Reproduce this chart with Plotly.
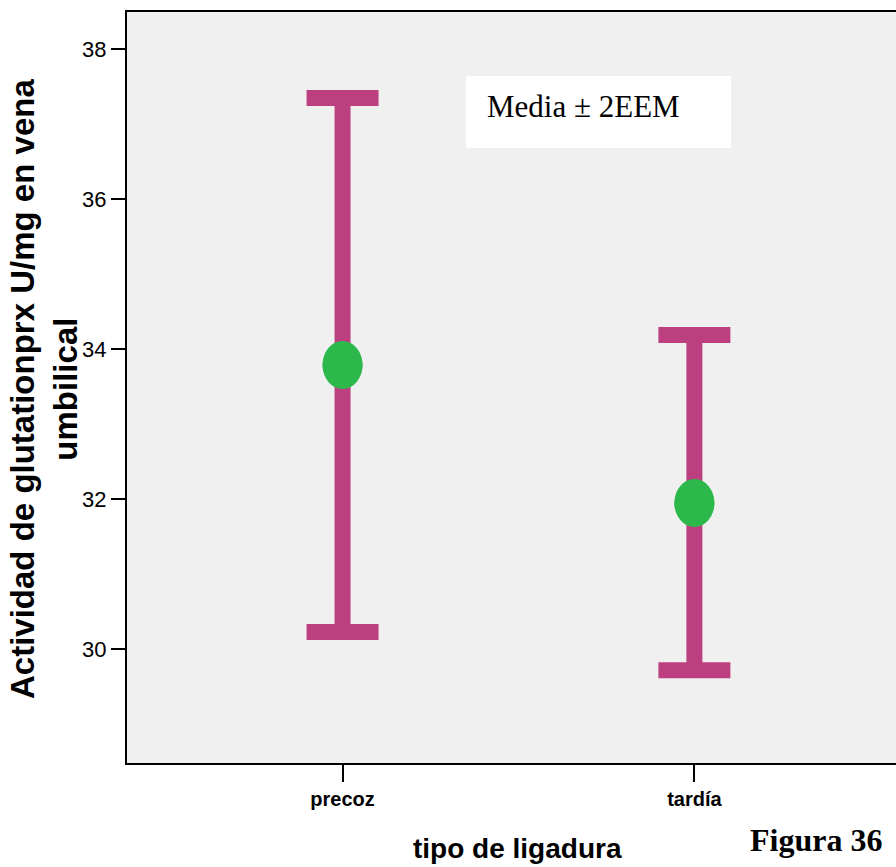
import plotly.graph_objects as go

# Glutathione peroxidase activity, umbilical vein, by ligation timing
categories = ["precoz", "tardía"]
means = [33.79, 31.95]
upper = [37.35, 34.19]   # mean + 2 SEM
lower = [30.23, 29.72]   # mean - 2 SEM
y_ticks = [30, 32, 34, 36, 38]

W, H = 896, 867
L, R, T, B = 127, 0, 12, 104
PW, PH = W - L - R, H - T - B

def px_x(p):
    return (p - L) / PW

def px_y(p):
    return (H - B - p) / PH

MAGENTA = "#BC4080"
GREEN = "#2DB84B"
NARROW = "Liberation Sans Narrow, Arial Narrow, Liberation Sans, Arial, sans-serif"

xs = list(range(len(categories)))

fig = go.Figure()
fig.add_trace(go.Scatter(
    x=xs, y=means, mode="markers",
    marker=dict(size=40, color=GREEN),
    error_y=dict(
        type="data", symmetric=False,
        array=[u - m for u, m in zip(upper, means)],
        arrayminus=[m - lo for m, lo in zip(means, lower)],
        color=MAGENTA, thickness=16, width=36,
    ),
    showlegend=False, hoverinfo="skip",
))

# Mean markers as slightly tall ellipses anchored to the data points
for x, m in zip(xs, means):
    fig.add_shape(type="circle", xref="x", yref="y",
                  xsizemode="pixel", ysizemode="pixel",
                  xanchor=x, yanchor=m, x0=-20, x1=20, y0=-24, y1=24,
                  fillcolor=GREEN, line=dict(width=0), layer="above")

# Legend-style box
fig.add_shape(type="rect", xref="paper", yref="paper",
              x0=px_x(466), x1=px_x(731), y0=px_y(148), y1=px_y(76),
              fillcolor="white", line=dict(width=0), layer="above")

annotations = [
    dict(text="Media ± 2EEM", x=px_x(485), y=px_y(106), xanchor="left", yanchor="middle",
         font=dict(family="Liberation Serif, Times New Roman, serif", size=31, color="black")),
    dict(text="Actividad de glutationprx U/mg en vena<br>umbilical",
         x=px_x(44), y=px_y(389), xanchor="center", yanchor="middle", textangle=-90,
         font=dict(family="Liberation Sans, Arial, sans-serif", size=33, color="black",
                   weight="bold")),
    dict(text="tipo de ligadura", x=px_x(517), y=px_y(848), xanchor="center", yanchor="middle",
         font=dict(family=NARROW, size=28, color="black", weight="bold")),
    dict(text="Figura 36", x=px_x(816), y=px_y(840), xanchor="center", yanchor="middle",
         font=dict(family="Liberation Serif, Times New Roman, serif", size=32, color="black",
                   weight="bold")),
]
for a in annotations:
    fig.add_annotation(xref="paper", yref="paper", showarrow=False, **a)

fig.update_layout(
    width=W, height=H,
    margin=dict(l=L, r=R, t=T, b=B, pad=0),
    paper_bgcolor="white", plot_bgcolor="#F0F0F0",
    xaxis=dict(
        range=[-0.6126, 1.573], tickvals=xs, ticktext=categories,
        showgrid=False, zeroline=False,
        showline=True, linecolor="black", linewidth=2, mirror=True,
        ticks="outside", ticklen=17, tickwidth=2, tickcolor="black",
        tickfont=dict(family=NARROW, size=20, color="black", weight="bold"),
    ),
    yaxis=dict(
        range=[28.484, 38.497], tickvals=y_ticks,
        showgrid=False, zeroline=False,
        showline=True, linecolor="black", linewidth=2,
        ticks="outside", ticklen=14, tickwidth=2, tickcolor="black",
        tickfont=dict(family=NARROW, size=22, color="black"),
    ),
)

fig.write_html("out.html")
